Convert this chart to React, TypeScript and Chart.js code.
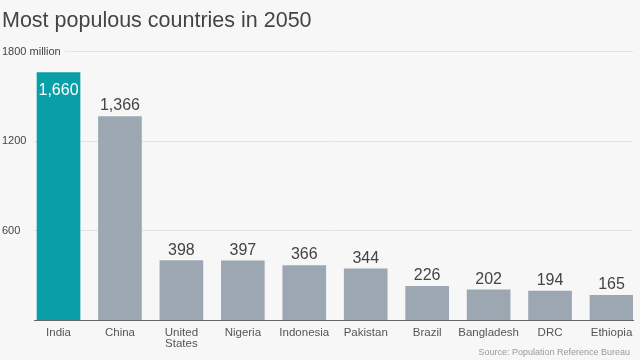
import React, { useEffect, useRef } from 'react';
import { Chart, registerables } from 'chart.js';

Chart.register(...registerables);

const titleText = 'Most populous countries in 2050';
const sourceText = 'Source: Population Reference Bureau';
const countries: (string | string[])[] = [
  'India',
  'China',
  ['United', 'States'],
  'Nigeria',
  'Indonesia',
  'Pakistan',
  'Brazil',
  'Bangladesh',
  'DRC',
  'Ethiopia',
];
const population2050 = [1660, 1366, 398, 397, 366, 344, 226, 202, 194, 165];
const yTickValues = [0, 600, 1200, 1800];
const yUnit = 'million';

const BG = '#f7f7f7';
const HIGHLIGHT = '#0a9ea8';
const BAR = '#9ca7b2';
const FONT = "'Liberation Sans', Arial, Helvetica, sans-serif";

export default function App() {
  const ref = useRef<HTMLCanvasElement | null>(null);

  useEffect(() => {
    const canvas = ref.current;
    if (!canvas) return;

    const labelsPlugin = {
      id: 'valueLabels',
      afterDatasetsDraw(chart: any) {
        const ctx = chart.ctx;
        const meta = chart.getDatasetMeta(0);
        ctx.save();
        ctx.font = `16px ${FONT}`;
        ctx.textAlign = 'center';
        ctx.textBaseline = 'alphabetic';
        meta.data.forEach((bar: any, i: number) => {
          const txt = population2050[i].toLocaleString('en-US');
          if (i === 0) {
            ctx.fillStyle = '#ffffff';
            ctx.fillText(txt, bar.x, bar.y + 22);
          } else {
            ctx.fillStyle = '#444444';
            ctx.fillText(txt, bar.x, bar.y - 6);
          }
        });
        ctx.font = `9px ${FONT}`;
        ctx.fillStyle = '#9a9a9a';
        ctx.textAlign = 'right';
        ctx.fillText(sourceText, chart.width - 10, chart.height - 5);
        ctx.restore();
      },
    };

    const chart = new Chart(canvas, {
      type: 'bar',
      data: {
        datasets: [
          {
            data: population2050.map((v, i) => ({ x: i, y: v })),
            backgroundColor: population2050.map((_, i) => (i === 0 ? HIGHLIGHT : BAR)),
            barThickness: 43,
            borderWidth: 0,
          },
        ],
      },
      options: {
        responsive: false,
        animation: false,
        devicePixelRatio: 1,
        layout: { padding: { left: 2, right: 7, top: 0, bottom: 3 } },
        plugins: {
          legend: { display: false },
          tooltip: { enabled: false },
          title: {
            display: true,
            text: titleText,
            align: 'start',
            color: '#444444',
            font: { family: FONT, size: 21.5, weight: 'normal', lineHeight: 1.2 },
            padding: { top: 8, bottom: 18 },
          },
        },
        scales: {
          x: {
            type: 'linear',
            offset: false,
            min: -0.399,
            max: 9.35,
            afterBuildTicks: (s: any) => {
              s.ticks = countries.map((_, i) => ({ value: i }));
            },
            grid: { display: false, drawTicks: false, offset: false },
            border: { display: true, color: '#666666', width: 1 },
            ticks: {
              autoSkip: false,
              maxRotation: 0,
              padding: 7,
              color: '#555555',
              font: { family: FONT, size: 11.5, lineHeight: 1.0 },
              callback: (v: any) => countries[Math.round(Number(v))] as any,
            },
          },
          y: {
            min: 0,
            max: 1800,
            afterBuildTicks: (s: any) => {
              s.ticks = yTickValues.map((v) => ({ value: v }));
            },
            afterFit: (s: any) => {
              s.width = 32;
              // let the long top label run into the plot area (no clipping to axis box)
              s._computeLabelArea = () => undefined;
            },
            border: { display: false },
            grid: { color: '#e3e3e3', drawTicks: false, lineWidth: 1 },
            ticks: {
              crossAlign: 'far',
              padding: 0,
              color: '#444444',
              font: { family: FONT, size: 11 },
              showLabelBackdrop: true,
              backdropColor: BG,
              backdropPadding: { top: 2, bottom: 2, left: 2, right: 4 },
              callback: (v: any) => {
                const n = Number(v);
                if (n === 0) return null as any;
                if (n === yTickValues[yTickValues.length - 1]) return `${n} ${yUnit}`;
                return String(n);
              },
            },
          },
        },
      },
      plugins: [labelsPlugin],
    });

    return () => chart.destroy();
  }, []);

  return (
    <div
      style={{
        position: 'fixed',
        left: 0,
        top: 0,
        width: 640,
        height: 360,
        background: BG,
        overflow: 'hidden',
      }}
    >
      <canvas ref={ref} width={640} height={360} style={{ display: 'block', width: 640, height: 360 }} />
    </div>
  );
}
